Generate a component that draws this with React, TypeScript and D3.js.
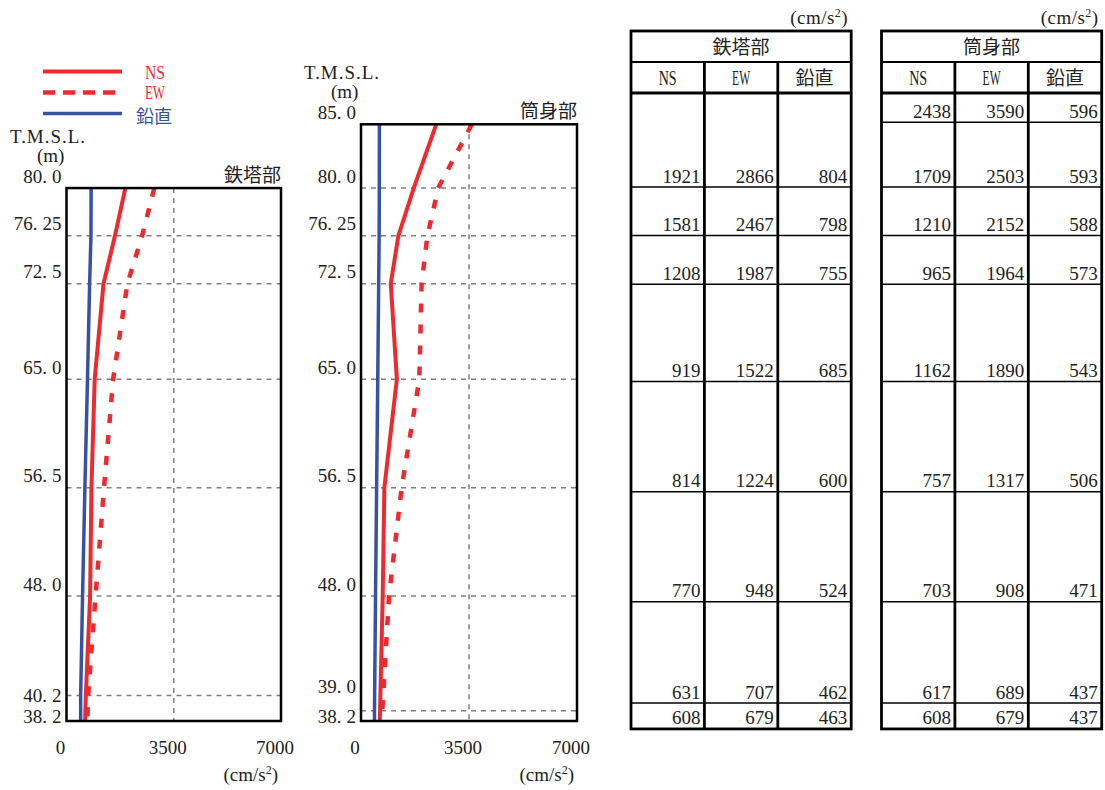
import React from 'react';
import * as d3 from 'd3';

// ---- data ----
const towerLevels = [80.0, 76.25, 72.5, 65.0, 56.5, 48.0, 40.2, 38.2];
const towerLevelLabels = ['80.0', '76.25', '72.5', '65.0', '56.5', '48.0', '40.2', '38.2'];
const towerNS = [1921, 1581, 1208, 919, 814, 770, 631, 608];
const towerEW = [2866, 2467, 1987, 1522, 1224, 948, 707, 679];
const towerV = [804, 798, 755, 685, 600, 524, 462, 463];

const shaftLevels = [85.0, 80.0, 76.25, 72.5, 65.0, 56.5, 48.0, 39.0, 38.2];
const shaftLevelLabels = ['85.0', '80.0', '76.25', '72.5', '65.0', '56.5', '48.0', '39.0', '38.2'];
const shaftNS = [2438, 1709, 1210, 965, 1162, 757, 703, 617, 608];
const shaftEW = [3590, 2503, 2152, 1964, 1890, 1317, 908, 689, 679];
const shaftV = [596, 593, 588, 573, 543, 506, 471, 437, 437];

const xTicks = [0, 3500, 7000];
const tableRowLevels = [85, 80, 76.25, 72.5, 65, 56.5, 48, 40.2, 38.2];
const componentNames = ['NS', 'EW', '鉛直'];

// ---- style ----
const RED = '#ee2a2e';
const BLUE = '#3852a3';
const INK = '#222';
const SERIF = '"Liberation Serif", "Times New Roman", serif';
const CJK = '"Noto Sans CJK JP", "Noto Sans CJK SC", sans-serif';

const yChart = d3.scaleLinear().domain([38.2, 85]).range([721, 124.3]);
const yTable = d3.scaleLinear().domain([80, 40.2]).range([187, 703]);

function LevelLabel({ x, y, label }: { x: number; y: number; label: string }) {
  const [a, b] = label.split('.');
  return (
    <text x={x} y={y} textAnchor="end" fontFamily={SERIF} fontSize={19} fill={INK}>
      {a + '.'}
      <tspan dx={5}>{b}</tspan>
    </text>
  );
}

function Profile(props: {
  x: d3.ScaleLinear<number, number>;
  levels: number[];
  labels: string[];
  ns: number[];
  ew: number[];
  v: number[];
  title: string;
  shifts: number[];
  tmslY: number;
  tmslX: number;
}) {
  const { x, levels, labels, ns, ew, v, title, shifts, tmslY, tmslX } = props;
  const top = yChart(levels[0]);
  const bottom = yChart(levels[levels.length - 1]);
  const left = x(0);
  const right = x(7000);
  const mk = (vals: number[]) =>
    d3
      .line<number>()
      .x((d) => x(d))
      .y((_, i) => yChart(levels[i]))(vals) || '';
  return (
    <g>
      {levels.slice(1, -1).map((lv) => (
        <line key={lv} x1={left} x2={right} y1={yChart(lv)} y2={yChart(lv)} stroke="#7f7f7f" strokeWidth={1.5} strokeDasharray="5,5" />
      ))}
      <line x1={x(3500)} x2={x(3500)} y1={top} y2={bottom} stroke="#7f7f7f" strokeWidth={1.5} strokeDasharray="5,5" />
      <path d={mk(v)} fill="none" stroke={BLUE} strokeWidth={3.5} />
      <path d={mk(ns)} fill="none" stroke={RED} strokeWidth={4} />
      <path d={mk(ew)} fill="none" stroke={RED} strokeWidth={4.5} strokeDasharray="9,12" />
      <rect x={left} y={top} width={right - left} height={bottom - top} fill="none" stroke="#000" strokeWidth={2.5} />
      {labels.map((lb, i) => (
        <LevelLabel key={lb} x={left - 5} y={yChart(levels[i]) - 5.5 + shifts[i]} label={lb} />
      ))}
      <text x={tmslX} y={tmslY} fontFamily={SERIF} fontSize={19} fill={INK} textLength={75} lengthAdjust="spacing">T.M.S.L.</text>
      <text x={tmslX + 27} y={tmslY + 19} fontFamily={SERIF} fontSize={19} fill={INK}>(m)</text>
      <text x={right} y={top - 6} textAnchor="end" fontFamily={CJK} fontSize={19} fill={INK}>{title}</text>
      {xTicks.map((t) => (
        <text key={t} x={x(t) - 6} y={754} textAnchor="middle" fontFamily={SERIF} fontSize={19} fill={INK}>{t}</text>
      ))}
      <text x={right - 3} y={781} textAnchor="end" fontFamily={SERIF} fontSize={19} fill={INK}>
        (cm/s<tspan dy={-7} fontSize={12}>2</tspan><tspan dy={7}>)</tspan>
      </text>
    </g>
  );
}

function Table(props: {
  x0: number;
  title: string;
  rows: number[][];
  rowLevels: number[];
}) {
  const { x0, title, rows, rowLevels } = props;
  const colW = 73.4;
  const xs = [0, 1, 2, 3].map((i) => x0 + i * colW);
  const topY = 31;
  const titleBottom = 62;
  const headBottom = 93;
  const bottomY = yTable(38.2);
  return (
    <g>
      <text x={xs[3] - 3} y={24} textAnchor="end" fontFamily={SERIF} fontSize={19} fill={INK} letterSpacing={0.5}>
        (cm/s<tspan dy={-7} fontSize={12}>2</tspan><tspan dy={7}>)</tspan>
      </text>
      <text x={(xs[0] + xs[3]) / 2} y={54} textAnchor="middle" fontFamily={CJK} fontSize={19} fill={INK}>{title}</text>
      {componentNames.map((c, i) =>
        c === '鉛直' ? (
          <text key={c} x={(xs[i] + xs[i + 1]) / 2} y={85} textAnchor="middle" fontFamily={CJK} fontSize={19} fill={INK}>{c}</text>
        ) : (
          <text key={c} x={(xs[i] + xs[i + 1]) / 2 - 9} y={85} fontFamily={SERIF} fontSize={20} fill={INK} textLength={18} lengthAdjust="spacingAndGlyphs">{c}</text>
        )
      )}
      {rowLevels.slice(0, -1).map((lv) => (
        <line key={lv} x1={xs[0]} x2={xs[3]} y1={yTable(lv)} y2={yTable(lv)} stroke="#000" strokeWidth={1.5} />
      ))}
      {rows.map((vals, c) =>
        vals.map((val, r) => (
          <text key={c + '-' + r} x={xs[c + 1] - 4} y={yTable(rowLevels[r]) - 4.5} textAnchor="end" fontFamily={SERIF} fontSize={19} fill={INK}>{val}</text>
        ))
      )}
      <line x1={xs[0]} x2={xs[3]} y1={titleBottom} y2={titleBottom} stroke="#000" strokeWidth={2} />
      <line x1={xs[0]} x2={xs[3]} y1={headBottom} y2={headBottom} stroke="#000" strokeWidth={2.8} />
      {[1, 2].map((i) => (
        <line key={i} x1={xs[i]} x2={xs[i]} y1={titleBottom} y2={bottomY} stroke="#000" strokeWidth={2.8} />
      ))}
      <rect x={xs[0]} y={topY} width={xs[3] - xs[0]} height={bottomY - topY} fill="none" stroke="#000" strokeWidth={2.8} />
    </g>
  );
}

export default function App() {
  const xLeft = d3.scaleLinear().domain([0, 7000]).range([66.5, 281]);
  const xRight = d3.scaleLinear().domain([0, 7000]).range([361, 577]);
  return (
    <svg width={1105} height={790} style={{ position: 'absolute', left: 0, top: 0, background: '#fff' }}>
      <rect x={0} y={0} width={1105} height={790} fill="#fff" />
      <g>
        <line x1={43} x2={122} y1={71.5} y2={71.5} stroke={RED} strokeWidth={4} />
        <line x1={43} x2={122} y1={92.5} y2={92.5} stroke={RED} strokeWidth={4.5} strokeDasharray="12,8" />
        <line x1={43} x2={122} y1={113.5} y2={113.5} stroke={BLUE} strokeWidth={3.5} />
        <text x={145} y={78.5} fontFamily={SERIF} fontSize={18} fill={RED} textLength={20} lengthAdjust="spacingAndGlyphs">NS</text>
        <text x={145} y={99} fontFamily={SERIF} fontSize={18} fill={RED} textLength={20} lengthAdjust="spacingAndGlyphs">EW</text>
        <text x={136} y={123} fontFamily={CJK} fontSize={18} fill={BLUE}>鉛直</text>
      </g>
      <Profile
        x={xLeft}
        levels={towerLevels}
        labels={towerLevelLabels}
        ns={towerNS}
        ew={towerEW}
        v={towerV}
        title="鉄塔部"
        shifts={[0, 0, 0, 0, 0, 0, 12, 7]}
        tmslX={10}
        tmslY={143}
      />
      <Profile
        x={xRight}
        levels={shaftLevels}
        labels={shaftLevelLabels}
        ns={shaftNS}
        ew={shaftEW}
        v={shaftV}
        title="筒身部"
        shifts={[0, 0, 0, 0, 0, 0, 0, -12, 7]}
        tmslX={304}
        tmslY={79}
      />
      <Table x0={631} title="鉄塔部" rows={[towerNS, towerEW, towerV]} rowLevels={tableRowLevels.slice(1)} />
      <Table x0={881.5} title="筒身部" rows={[shaftNS, shaftEW, shaftV]} rowLevels={tableRowLevels} />
    </svg>
  );
}
